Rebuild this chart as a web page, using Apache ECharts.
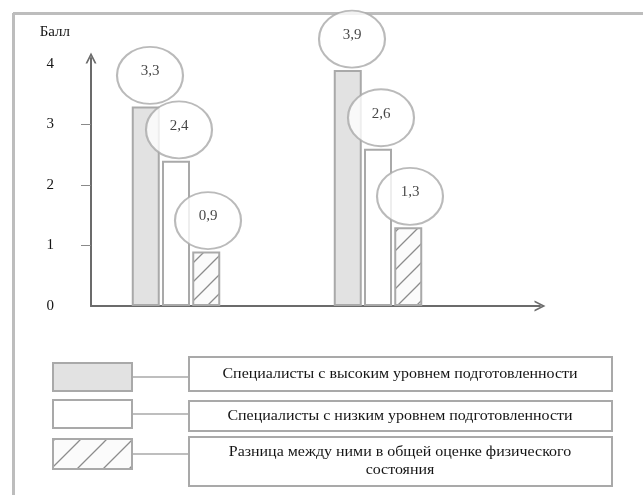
<!DOCTYPE html>
<html>
<head>
<meta charset="utf-8">
<script src="https://cdn.jsdelivr.net/npm/echarts@6/dist/echarts.min.js"></script>
<style>
  html, body { margin: 0; padding: 0; background: #fff; }
  #chart { width: 643px; height: 495px; }
</style>
</head>
<body>
<div id="chart"></div>
<script>
// данные
const groups = ['Группа 1', 'Группа 2'];
const highLevel = [3.3, 3.9];
const lowLevel = [2.4, 2.6];
const difference = [0.9, 1.3];
const legendLabels = [
  'Специалисты с высоким уровнем подготовленности',
  'Специалисты с низким уровнем подготовленности',
  'Разница между ними в общей оценке физического\nсостояния'
];
const yTicks = [0, 1, 2, 3, 4];
const yMinorTicks = [1, 2, 3];

const serif = 'Liberation Serif';
const edge = '#a9a9a9';
const ink = '#151515';

// штриховка "/"
const makeHatch = (size) => {
  const c = document.createElement('canvas');
  c.width = size; c.height = size;
  const g = c.getContext('2d');
  g.fillStyle = '#fbfbfb';
  g.fillRect(0, 0, size, size);
  g.strokeStyle = '#8c8c8c';
  g.lineWidth = 1.3;
  g.beginPath();
  g.moveTo(0, size); g.lineTo(size, 0);
  g.moveTo(-4, 4); g.lineTo(4, -4);
  g.moveTo(size - 4, size + 4); g.lineTo(size + 4, size - 4);
  g.stroke();
  return c;
};
const hatch = { image: makeHatch(19), repeat: 'repeat' };
const hatchLegend = { image: makeHatch(26), repeat: 'repeat' };

const fills = ['#e2e2e2', '#ffffff', hatch];
const legendFills = ['#e2e2e2', '#ffffff', hatchLegend];
const values = [highLevel, lowLevel, difference];
const ellipseDx = [-26, 3, 32];

const chevron = 'path://M0,12 L6,0 L12,12 L10,12 L6,4 L2,12 Z';

const barSeries = values.map((v, i) => ({
  name: legendLabels[i],
  type: 'bar',
  xAxisIndex: 1,
  yAxisIndex: 1,
  data: v,
  barWidth: 28,
  barGap: '8%',
  itemStyle: { color: fills[i], borderColor: edge, borderWidth: 2 },
  silent: true
}));

const ellipseSeries = values.map((v, i) => ({
  type: 'scatter',
  xAxisIndex: 1,
  yAxisIndex: 1,
  data: v,
  symbol: 'circle',
  symbolSize: [66, 57],
  symbolOffset: [ellipseDx[i], -31],
  clip: false,
  silent: true,
  z: 5 + i,
  itemStyle: { color: '#fff', borderColor: edge, borderWidth: 2 },
  label: {
    show: true,
    position: 'inside',
    offset: [0, -4],
    formatter: p => String(p.value).replace('.', ','),
    fontFamily: serif,
    fontSize: 15,
    color: ink
  }
}));

// легенда: образец -- линия -- рамка с текстом
const rows = [
  { sy: 363, sh: 28, by: 357, bh: 34 },
  { sy: 400, sh: 28, by: 401, bh: 30 },
  { sy: 439, sh: 30, by: 437, bh: 49 }
];
const legendGraphics = [];
rows.forEach((r, i) => {
  legendGraphics.push({
    type: 'rect', shape: { x: 53, y: r.sy, width: 79, height: r.sh },
    style: { fill: legendFills[i], stroke: edge, lineWidth: 2 }
  });
  legendGraphics.push({
    type: 'line', shape: { x1: 132, y1: r.sy + r.sh / 2, x2: 189, y2: r.sy + r.sh / 2 },
    style: { stroke: edge, lineWidth: 1.5 }
  });
  legendGraphics.push({
    type: 'rect', shape: { x: 189, y: r.by, width: 423, height: r.bh },
    style: { fill: '#fff', stroke: edge, lineWidth: 2 }
  });
  legendGraphics.push({
    type: 'text', x: 400, y: r.by + r.bh / 2, scaleX: 1.14,
    style: {
      text: legendLabels[i], fill: ink, font: '14px "Liberation Serif"',
      align: 'center', verticalAlign: 'middle', lineHeight: 18
    }
  });
});

const option = {
  animation: false,
  grid: [
    { left: 91, top: 58, width: 449, height: 248 },
    { left: 75, top: 58, width: 404, height: 248 }
  ],
  xAxis: [
    {
      gridIndex: 0, type: 'value', min: 0, max: 1,
      axisLine: { show: true, symbol: ['none', chevron], symbolSize: [11, 12], lineStyle: { color: '#6b6b6b', width: 2 } },
      axisTick: { show: false }, axisLabel: { show: false }, splitLine: { show: false }
    },
    { gridIndex: 1, type: 'category', data: groups, show: false }
  ],
  yAxis: [
    {
      gridIndex: 0, type: 'value', min: 0, max: 4.1,
      name: 'Балл', nameLocation: 'end', nameGap: 18,
      nameTextStyle: { fontFamily: serif, fontSize: 15, color: ink, align: 'right', padding: [0, 21, 0, 0] },
      axisLine: { show: true, symbol: ['none', chevron], symbolSize: [11, 12], lineStyle: { color: '#6b6b6b', width: 2 } },
      axisTick: { show: true, customValues: yMinorTicks, length: 10, lineStyle: { color: '#8a8a8a', width: 1 } },
      axisLabel: { customValues: yTicks, margin: 37, fontFamily: serif, fontSize: 15, color: ink, padding: [0, 0, 12, 0] },
      splitLine: { show: false }
    },
    { gridIndex: 1, type: 'value', min: 0, max: 4.1, show: false }
  ],
  graphic: [
    { type: 'line', shape: { x1: 13, y1: 13.5, x2: 643, y2: 13.5 }, style: { stroke: '#bdbdbd', lineWidth: 3 } },
    { type: 'line', shape: { x1: 13.5, y1: 13, x2: 13.5, y2: 495 }, style: { stroke: '#bdbdbd', lineWidth: 3 } },
    ...legendGraphics
  ],
  series: [...barSeries, ...ellipseSeries]
};

const myChart = echarts.init(document.getElementById('chart'));
myChart.setOption(option);
</script>
</body>
</html>
